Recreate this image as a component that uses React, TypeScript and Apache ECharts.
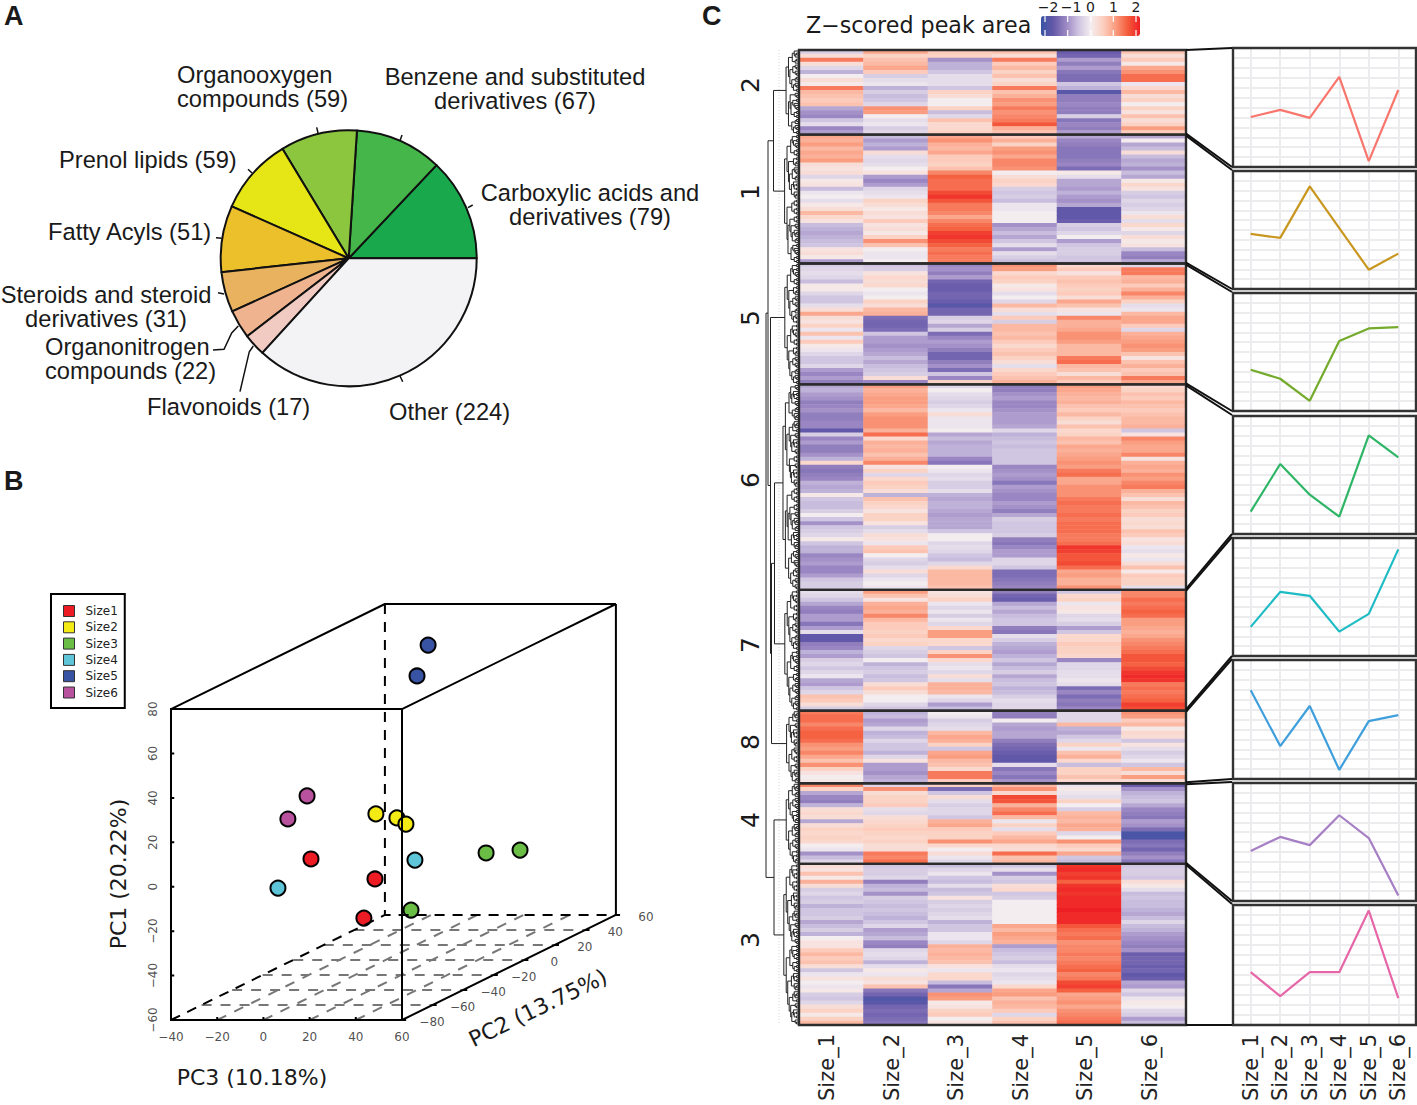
import React, { useEffect, useRef } from "react";
import * as echarts from "echarts";

const SANS = "Liberation Sans";
const DEJA = "DejaVu Sans";

// Panel A
const classNames = ["Carboxylic acids and derivatives", "Benzene and substituted derivatives", "Organooxygen compounds", "Prenol lipids", "Fatty Acyls", "Steroids and steroid derivatives", "Organonitrogen compounds", "Flavonoids", "Other"];
const classCounts = [79, 67, 59, 59, 51, 31, 22, 17, 224];
const classColors = ["#19a84c", "#45b649", "#8cc63f", "#e6e617", "#ecc02a", "#e8b25e", "#efb48f", "#f1cbc2", "#f3f3f5"];

// Panel B: points given in the plane of the perspective box
const size1Points = [[20.6, 12.5], [48.3, 3.5], [43.5, -14.1]];
const size2Points = [[48.7, 32.8], [57.8, 31], [61.7, 28.2]];
const size3Points = [[96.4, 15.2], [111.1, 16.5], [63.9, -10.5]];
const size4Points = [[65.6, 12], [6.3, -0.6]];
const size5Points = [[71.3, 108.8], [66.5, 94.9]];
const size6Points = [[18.9, 40.9], [10.6, 30.5]];
const pcaNames = ["Size1", "Size2", "Size3", "Size4", "Size5", "Size6"];
const pcaColors = ["#ed1c24", "#f5eb14", "#6abd45", "#5ec5d8", "#3953a4", "#b8529e"];
const pc3Ticks = [-40, -20, 0, 20, 40, 60];
const pc2Ticks = [-80, -60, -40, -20, 0, 20, 40, 60];
const pc1Ticks = [-60, -40, -20, 0, 20, 40, 60, 80];

// Panel C: z-scores x10, one array per sample column, rows top to bottom
const sizeLabels = ["Size_1", "Size_2", "Size_3", "Size_4", "Size_5", "Size_6"];
const clusterTwo = [
  [-4,3,14,3,-3,-7,0,3,1,14,8,7,6,7,-8,-10,-11,-5,-2,-11,-9],
  [10,5,7,8,10,6,-4,-2,-1,-7,-4,-6,-5,-3,12,11,0,-2,-1,-4,-3],
  [6,5,-10,-7,-7,-5,-2,-2,-2,-5,5,3,0,0,5,-6,-3,7,4,4,5],
  [7,3,14,6,8,5,7,3,5,14,7,9,12,11,14,12,13,14,17,9,7],
  [-16,-15,-9,-12,-9,-13,-14,-14,-5,-7,-18,-12,-12,-11,-12,-12,-4,-13,-11,-12,-9],
  [7,3,6,1,10,12,15,15,-1,4,8,3,5,0,5,2,7,3,5,11,6],
];
const clusterOne = [
  [10,9,11,8,10,9,11,3,2,3,-3,1,2,-6,-1,0,-2,1,3,8,4,2,-6,-7,-8,-7,-6,-5,2,3,1,-9],
  [-6,-9,-7,-9,3,-2,-3,-2,0,2,-9,-11,-9,-3,-2,-1,5,3,1,3,2,6,2,3,1,5,12,7,0,-1,-1,0],
  [10,12,9,8,10,6,6,5,7,13,16,15,15,15,18,20,17,14,14,13,10,13,15,16,19,20,18,16,14,15,14,14],
  [6,9,5,11,12,10,13,13,12,0,3,5,4,-4,-5,-4,-6,-1,-1,0,0,0,-10,-8,-6,-8,-5,-2,-9,-2,-4,-6],
  [-8,-11,-12,-13,-13,-13,-12,-11,-14,1,-2,-8,-8,-9,-7,-9,-10,-8,-17,-17,-17,-16,-4,-5,-3,0,-9,-5,-4,-4,-5,-5],
  [-8,0,-8,-6,3,-6,-8,-7,-10,-6,-8,1,4,2,-4,-5,-3,-4,-3,-1,3,-2,4,1,-3,3,1,2,-6,-11,-12,-8],
];
const clusterFive = [
  [-4,-3,-2,-3,-6,1,1,-3,-5,-5,-2,3,10,3,2,5,-1,7,-1,6,1,-1,-3,-5,-5,-3,-9,-11,-9,-12],
  [-5,-4,2,4,3,4,0,-1,0,5,3,8,9,-14,-15,-15,-14,-5,-9,-9,-10,-9,-8,-6,-8,-6,-5,-4,3,-11],
  [-11,-10,-12,-9,-15,-16,-16,-15,-15,-16,-18,-15,-15,-4,-3,-8,-4,-14,-11,-9,-10,-12,-15,-15,-12,-10,-14,-5,-11,5],
  [12,11,4,6,5,1,2,-2,0,-3,8,3,-2,6,-4,8,8,7,8,6,4,6,7,5,3,-2,4,6,7,9],
  [4,6,2,6,7,6,5,6,3,10,7,2,-1,13,9,9,10,12,12,11,8,8,8,14,15,8,7,3,8,6],
  [-3,14,14,8,9,6,9,13,9,5,-2,-1,8,10,10,6,-3,9,10,11,12,11,7,2,7,9,6,7,14,10],
];
const clusterSix = [
  [-8,-7,-9,-10,-12,-11,-10,-12,-12,-11,-11,-17,-4,-11,-9,-12,-12,-10,-7,4,-12,-13,-12,-11,-7,-8,-7,1,-5,-6,-6,-4,0,-5,-10,-5,-4,-3,1,-5,-7,-7,-11,-10,-9,-11,-11,-9,-5,-4,-4],
  [11,9,10,11,11,10,8,11,12,12,12,9,15,4,9,8,9,7,9,13,2,5,-3,4,6,5,3,-7,7,5,4,2,5,5,2,-4,-2,3,2,-1,6,7,0,-3,-4,-2,3,-3,-1,0,-1],
  [-3,0,-2,-3,-4,-3,-1,3,-1,-1,-1,0,-8,-6,-8,-7,-7,-7,-11,-13,0,-1,-3,-2,-4,-4,-2,-7,-8,-7,-7,-8,-9,-8,-8,-8,-5,0,0,-3,-2,-3,-5,-6,-3,4,8,8,8,8,7],
  [-12,-12,-10,-9,-11,-11,-10,-9,-9,-9,-8,-3,-7,-6,-5,-6,-5,-5,-5,-5,-11,-10,-9,-10,-13,-9,-10,-11,-11,-9,-10,-12,-8,-4,-5,-5,-5,-4,-12,-13,-11,-9,-9,-3,-3,-5,-14,-14,-13,-12,-11],
  [11,10,9,8,9,7,6,8,5,3,7,4,5,8,7,10,9,10,11,12,11,14,15,10,10,12,12,12,14,15,14,14,15,14,15,15,15,14,14,15,20,19,17,17,18,15,10,11,9,9,12],
  [4,5,7,6,8,7,6,7,8,8,9,-5,2,13,11,10,10,13,2,9,10,9,12,11,13,14,9,7,3,8,7,5,6,3,4,3,7,6,2,3,-1,-2,1,-1,3,7,1,6,5,5,-2],
];
const clusterSeven = [
  [-2,-3,-5,-8,-11,-12,-9,-9,-13,-9,-2,-17,-17,-12,-11,-7,-9,-4,-3,-5,-3,-1,-8,-9,-5,-3,7,6,3,-4],
  [11,7,2,9,10,9,13,8,6,6,5,6,4,5,-3,-4,-5,0,-7,-5,-4,-6,-5,3,6,3,0,0,-3,-5],
  [2,3,5,-1,-3,-1,-4,-1,-3,4,11,11,4,4,-5,5,12,4,-2,-1,-3,3,-2,9,9,8,-1,-3,-9,-6],
  [-12,-15,-16,-8,-6,-8,-6,-5,-5,-12,-13,-2,-4,-7,-8,-9,-7,-5,-8,-6,-4,-8,-6,-5,-7,-6,-4,-2,-3,-3],
  [-5,4,5,-1,2,1,-3,-2,-4,-9,-5,4,4,6,5,5,4,-11,-3,-3,-2,-2,-1,-2,-14,-11,-14,-12,-13,-11],
  [13,13,15,14,15,16,15,11,11,10,9,10,12,13,14,15,17,17,16,18,20,21,20,14,15,14,15,16,19,18],
];
const clusterEight = [
  [14,15,15,13,15,16,16,15,12,11,13,10,7,12,5,2,0,1],
  [-7,-6,-9,-8,-3,-7,-6,-3,-5,-5,-7,-3,2,-9,-9,-10,-8,-7],
  [0,-1,-4,-3,-2,8,10,9,5,-5,10,11,8,7,4,14,14,6],
  [-12,-12,0,-8,-9,-8,-8,-12,-14,-15,-16,-17,-17,-2,-13,-11,-13,-10],
  [-3,-3,-3,8,-7,-8,-5,-3,5,-1,7,9,4,-6,5,5,7,4],
  [12,11,6,8,1,4,3,-5,2,-2,-4,-3,-1,-5,8,3,11,3],
];
const clusterFour = [
  [13,5,-8,-11,-12,-7,3,4,3,-8,3,5,4,5,4,0,-1,-10,-6,-3],
  [-3,12,3,5,5,6,-2,-3,3,4,5,6,5,4,5,3,3,14,13,15],
  [5,-14,-5,3,-2,-4,-3,-3,-5,9,10,6,5,5,12,4,0,3,-1,-3],
  [8,12,4,18,17,9,13,15,8,-1,5,-2,6,8,10,4,3,15,7,8],
  [-1,1,-1,-2,5,0,-4,8,9,8,10,9,-3,0,12,6,4,10,-5,-6],
  [-16,-10,-7,-6,-5,-8,-11,-12,-13,-9,-10,-14,-20,-20,-14,-13,-15,-12,-10,-13],
];
const clusterThree = [
  [3,2,7,1,9,3,-4,-3,-5,-4,-7,-5,-5,-4,-8,-6,-4,-7,0,2,2,6,8,6,7,3,-5,-1,2,0,-1,1,-4,-5,-3,3,5,1,5,8],
  [-5,-4,-4,-3,-12,-7,-6,-10,-4,-5,-6,-5,-6,-7,-5,-3,-9,-8,-6,-11,-12,-3,-2,-3,-7,-2,1,-1,3,2,7,-13,-15,-19,-18,-15,-14,-15,-14,-13],
  [-6,-3,-1,-5,-6,-2,-6,-5,2,-4,-3,-4,-3,-2,-7,-5,-5,-1,-1,-3,9,8,9,8,7,2,-1,4,4,-6,-13,-8,12,11,1,2,5,6,0,2],
  [-5,-2,-10,-4,-5,3,4,-5,-4,0,0,0,0,0,0,10,8,11,10,9,-9,-6,-5,-4,-6,-2,-1,-3,-2,-1,4,10,11,7,9,8,6,-3,5,7],
  [20,21,19,20,16,20,21,20,21,21,21,22,21,21,21,17,15,14,15,12,13,13,14,13,14,15,16,13,14,18,19,16,10,11,12,10,12,13,14,15],
  [-5,-4,-4,-5,3,1,-2,-6,-5,-6,-6,-7,-8,-6,-3,-6,-7,-9,-10,-11,-12,-10,-16,-15,-15,-16,-15,-17,-16,-8,-9,-3,-5,-1,1,0,-3,-4,-9,-6],
];
const clusterOrder = [clusterTwo, clusterOne, clusterFive, clusterSix, clusterSeven, clusterEight, clusterFour, clusterThree];
const clusterNames = ["2", "1", "5", "6", "7", "8", "4", "3"];
const clusterLabelY = [85, 192, 318, 480, 645, 742, 820, 940];

// Panel C: mean profile of each cluster
const profile1 = [-0.24, -0.06, -0.26, 0.77, -1.35, 0.44];
const profile2 = [-0.1, -0.2, 1.11, 0.05, -1.01, -0.6];
const profile3 = [-0.45, -0.68, -1.24, 0.28, 0.6, 0.63];
const profile4 = [-0.93, 0.28, -0.5, -1.06, 1.01, 0.45];
const profile5 = [-0.76, 0.13, 0.03, -0.88, -0.43, 1.21];
const profile6 = [0.74, -0.67, 0.34, -1.27, -0.04, 0.11];
const profile7 = [-0.23, 0.13, -0.08, 0.68, 0.1, -1.36];
const profile8 = [-0.18, -0.78, -0.18, -0.18, 1.36, -0.83];
const profiles = [profile1, profile2, profile3, profile4, profile5, profile6, profile7, profile8];
const profileColors = ["#f8766d", "#c9971f", "#74ab2c", "#2fb566", "#1dbcc4", "#3f9fdc", "#a67fc5", "#e667a8"];
const panelTops = [48, 171, 293, 416, 538, 660, 783, 905];
const panelBottoms = [167, 289, 411, 534, 656, 779, 901, 1025];

const minus = (v: number) => String(v).replace("-", "\u2212");
const ux = 92.6 / 140;
const uy = 47.3 / 140;
const project = (pc3: number, pc2: number, pc1: number) => [pc3 + (pc2 + 80) * ux, pc1 + (pc2 + 80) * uy];

function segments(list: number[][][]) {
  const out: any[] = [];
  list.forEach((s) => {
    s.forEach((p) => out.push(project(p[0], p[1], p[2])));
    out.push(["-", "-"]);
  });
  return out;
}

function buildOption() {
  const HT = 50, HH = 975, HL = 799, HW = 387;
  const N = clusterOrder.reduce((a, c) => a + c[0].length, 0);
  const rowH = HH / N;

  // heatmap cells
  const heat: number[][] = [];
  let start = 0;
  const ranges: number[][] = [];
  clusterOrder.forEach((c) => {
    const n = c[0].length;
    c.forEach((col, x) => col.forEach((v, r) => heat.push([x, start + r, v / 10])));
    ranges.push([start, n]);
    start += n;
  });

  // dendrogram
  const dend: any[] = [];
  const merge = (a: number[], b: number[], x: number) => {
    dend.push([a[0], a[1]], [x, a[1]], [x, b[1]], [b[0], b[1]], ["-", "-"]);
    return [x, (a[1] + b[1]) / 2];
  };
  const fractions = [0.5, 0.35, 0.6, 0.25, 0.45];
  const tree = (lo: number, n: number, top: number, depth: number): number[] => {
    if (n === 1) return [HL, top + (lo + 0.5) * rowH / 2];
    const f = fractions[(depth + lo) % 5];
    const k = Math.max(1, Math.min(n - 1, Math.round(n * f)));
    const a = tree(lo, k, top, depth + 1);
    const b = tree(lo + k, n - k, top, depth + 1);
    return merge(a, b, HL - 2.4 * Math.log2(n));
  };
  const roots = ranges.map(([s, n]) => tree(0, n * 2, HT + s * rowH, 0));
  const n21 = merge(roots[0], roots[1], 773.5);
  const n67 = merge(roots[3], roots[4], 774.5);
  const n678 = merge(n67, roots[5], 771.5);
  const n5678 = merge(roots[2], n678, 770.5);
  const n43 = merge(roots[6], roots[7], 774);
  const nTop = merge(n21, n5678, 768);
  merge(nTop, n43, 766);

  // perspective box
  const solid = segments([
    [[-40, -80, 80], [60, -80, 80], [60, -80, -60], [-40, -80, -60], [-40, -80, 80]],
    [[-40, -80, 80], [-40, 60, 80], [60, 60, 80], [60, -80, 80]],
    [[60, 60, 80], [60, 60, -60], [60, -80, -60]],
    ...pc3Ticks.map((t) => [[t, -80, -61.4], [t, -80, -58.6]]),
    ...pc1Ticks.map((t) => [[-41.4, -80, t], [-38.6, -80, t]]),
    ...pc2Ticks.map((t) => [[60, t, -60], [61.8, t, -60]]),
  ]);
  const dashedBlack = segments([
    [[-40, 60, 80], [-40, 60, -60]],
    [[-40, -80, -60], [-40, 60, -60], [60, 60, -60]],
  ]);
  const dashedGrey = segments([
    ...pc2Ticks.slice(1, -1).map((t) => [[-40, t, -60], [60, t, -60]]),
    ...pc3Ticks.slice(1, -1).map((t) => [[t, -80, -60], [t, 60, -60]]),
  ]);
  const labelSeries = (data: any[], offset: number[], rotate = 0) => ({
    type: "scatter", xAxisIndex: 2, yAxisIndex: 2, symbolSize: 1, clip: false, silent: true,
    itemStyle: { color: "transparent" },
    label: { show: true, position: "inside", offset, rotate, fontFamily: DEJA, fontSize: 12, color: "#222", formatter: (p: any) => p.value[2] },
    data,
  });

  // connectors between heatmap and profiles
  const clusterTopY = ranges.map(([s]) => HT + s * rowH);
  const clusterBottomY = ranges.map(([s, n]) => HT + (s + n) * rowH);
  const connector: any[] = [];
  clusterTopY.forEach((y, i) => connector.push({ a: y + (i ? 1 : 0), b: panelTops[i] - (i ? 1 : 0) }));
  clusterBottomY.forEach((y, i) => connector.push({ a: y - (i < 7 ? 1 : 0), b: panelBottoms[i] }));

  const text = (t: string, x: number, y: number, size: number, opt: any = {}) => ({
    type: "text", x, y, z: 20, rotation: opt.rotation || 0,
    style: {
      text: t, fontFamily: opt.family || SANS, fontSize: size, fontWeight: opt.weight || "normal",
      fill: opt.fill || "#1a1a1a", align: opt.align || "left", verticalAlign: "middle", lineHeight: opt.lineHeight || size * 1.0,
    },
  });
  const seg = (x1: number, y1: number, x2: number, y2: number, w = 1.5, stroke = "#111") => ({
    type: "line", z: 20, shape: { x1, y1, x2, y2 }, style: { stroke, lineWidth: w },
  });
  const leader = (points: number[][]) => ({
    type: "polyline", z: 20, shape: { points }, style: { stroke: "#111", lineWidth: 1.5, fill: "none" },
  });

  const graphics: any[] = [
    text("A", 4, 16, 27, { weight: "bold" }),
    text("B", 4, 481, 27, { weight: "bold" }),
    text("C", 702, 16, 27, { weight: "bold" }),
    text("Organooxygen\ncompounds (59)", 177, 86.5, 23.7, { lineHeight: 24 }),
    text("Benzene and substituted\nderivatives (67)", 515, 88.5, 23.7, { align: "center", lineHeight: 24 }),
    text("Prenol lipids (59)", 59, 159.5, 23.7),
    text("Carboxylic acids and\nderivatives (79)", 590, 204.5, 23.7, { align: "center", lineHeight: 24 }),
    text("Fatty Acyls (51)", 48, 231.5, 23.7),
    text("Steroids and steroid\nderivatives (31)", 106, 306.5, 23.7, { align: "center", lineHeight: 24 }),
    text("Organonitrogen\ncompounds (22)", 45, 358.5, 23.7, { lineHeight: 24 }),
    text("Flavonoids (17)", 147, 406.5, 23.7),
    text("Other (224)", 389, 411.5, 23.7),
    seg(316.7, 127.3, 318, 133), seg(402, 135, 400, 140.7), seg(468, 207.7, 472.7, 205), seg(248, 169.3, 252, 173),
    seg(216, 237.7, 221.7, 238.3), seg(218, 292.7, 224, 294), seg(400, 376, 402.7, 381.7),
    leader([[213, 350], [224, 349.3], [231.7, 333], [238.3, 326]]),
    leader([[240, 391.7], [249.3, 351.7], [253.3, 346]]),
    text("PC1 (20.22%)", 118, 874, 22, { family: DEJA, align: "center", rotation: Math.PI / 2 }),
    text("PC3 (10.18%)", 252, 1077, 22, { family: DEJA, align: "center" }),
    text("PC2 (13.75%)", 538, 1008, 22, { family: DEJA, align: "center", rotation: 0.45 }),
    text("Z\u2212scored peak area", 806, 25, 22.2, { family: DEJA }),
    ...[-2, -1, 0, 1, 2].map((v, i) => text(minus(v), [1048, 1071, 1090.5, 1113.5, 1136][i], 7, 14, { family: DEJA, align: "center" })),
    ...[1045, 1067.7, 1091, 1113.3, 1136].flatMap((x) => [seg(x, 16, x, 22, 1.2, "#fff"), seg(x, 30, x, 36, 1.2, "#fff")]),
    ...clusterNames.map((n, i) => text(n, 750, clusterLabelY[i], 25, { family: DEJA, align: "center", rotation: Math.PI / 2 })),
    ...ranges.map(([s, n]) => ({
      type: "rect", z: 15, shape: { x: HL, y: HT + s * rowH, width: HW, height: n * rowH },
      style: { fill: "none", stroke: "#2b2b2b", lineWidth: 2.4 },
    })),
    ...connector.map((c) => seg(HL + HW, c.a, 1232, c.b, 2, "#111")),
    ...panelTops.map((top, i) => ({
      type: "rect", z: 15, shape: { x: 1233, y: top, width: 183, height: panelBottoms[i] - top },
      style: { fill: "none", stroke: "#333", lineWidth: 2.4 },
    })),
  ];

  const grids: any[] = [
    { left: HL, top: HT, width: HW, height: HH, outerBoundsMode: "none" },
    { left: 760, top: HT, width: 39, height: HH, outerBoundsMode: "none" },
    { left: 171, top: 598, width: 462, height: 422, outerBoundsMode: "none" },
  ];
  const hiddenValue = (min: number, max: number, inverse = false, gridIndex = 0) => ({
    type: "value", gridIndex, min, max, inverse, show: false, splitLine: { show: false },
  });
  const xAxes: any[] = [
    {
      type: "category", gridIndex: 0, data: sizeLabels, axisLine: { show: false }, axisTick: { show: false },
      axisLabel: { rotate: 90, fontFamily: DEJA, fontSize: 21, margin: 9, color: "#222", verticalAlign: "bottom", lineHeight: 8 },
    },
    hiddenValue(760, 799, false, 1),
    hiddenValue(-40, 160, false, 2),
  ];
  const yAxes: any[] = [
    { type: "category", gridIndex: 0, inverse: true, data: Array.from({ length: N }, (_, i) => String(i)), show: false },
    hiddenValue(HT, HT + HH, true, 1),
    hiddenValue(-60, 130, false, 2),
  ];
  const series: any[] = [
    {
      type: "pie", center: [348.7, 258.3], radius: 128, startAngle: 0, clockwise: false, silent: true,
      label: { show: false }, labelLine: { show: false },
      itemStyle: { borderColor: "#111", borderWidth: 2 },
      data: classNames.map((name, i) => ({ name, value: classCounts[i], itemStyle: { color: classColors[i] } })),
    },
    {
      type: "heatmap", xAxisIndex: 0, yAxisIndex: 0, data: heat, silent: true, progressive: 0,
      itemStyle: { borderWidth: 0 },
    },
    {
      type: "line", xAxisIndex: 1, yAxisIndex: 1, data: [[779, HT], [779, HT + HH]], showSymbol: false, silent: true,
      lineStyle: { color: "#bbb", width: 0.6, type: [1, 2] },
    },
    {
      type: "line", xAxisIndex: 1, yAxisIndex: 1, data: dend, showSymbol: false, silent: true, connectNulls: false,
      lineStyle: { color: "#222", width: 1 },
    },
    { type: "line", xAxisIndex: 2, yAxisIndex: 2, data: dashedGrey, showSymbol: false, silent: true, lineStyle: { color: "#777", width: 2, type: [10, 9] } },
    { type: "line", xAxisIndex: 2, yAxisIndex: 2, data: dashedBlack, showSymbol: false, silent: true, lineStyle: { color: "#000", width: 2, type: [10, 8] } },
    { type: "line", xAxisIndex: 2, yAxisIndex: 2, data: solid, showSymbol: false, silent: true, lineStyle: { color: "#000", width: 2 } },
    labelSeries(pc3Ticks.map((t) => [...project(t, -80, -60), minus(t)]), [0, 17]),
    labelSeries(pc1Ticks.map((t) => [...project(-40, -80, t), minus(t)]), [0, -18], 90),
    labelSeries(pc2Ticks.map((t) => [...project(60, t, -60), minus(t)]), [30, 2]),
    ...[size1Points, size2Points, size3Points, size4Points, size5Points, size6Points].map((pts, i) => ({
      type: "scatter", name: pcaNames[i], xAxisIndex: 2, yAxisIndex: 2, data: pts, symbol: "circle", symbolSize: 15, clip: false, silent: true,
      itemStyle: { color: pcaColors[i], borderColor: "#000", borderWidth: 2, opacity: 1 },
    })),
  ];
  profiles.forEach((values, i) => {
    const g = grids.length;
    grids.push({ left: 1233, width: 183, top: panelTops[i], height: panelBottoms[i] - panelTops[i], outerBoundsMode: "none" });
    const last = i === profiles.length - 1;
    xAxes.push({
      type: "value", gridIndex: g, min: 0.4, max: 6.6, axisLine: { show: false },
      axisTick: { show: false, customValues: [1, 2, 3, 4, 5, 6] },
      axisLabel: {
        show: last, customValues: [1, 2, 3, 4, 5, 6], rotate: 90, fontFamily: DEJA, fontSize: 21, margin: 9, color: "#222",
        formatter: (v: number) => sizeLabels[v - 1], hideOverlap: false,
      },
      splitLine: { show: true, lineStyle: { color: "#ececee", width: 2 } },
    });
    yAxes.push({
      type: "value", gridIndex: g, min: -1.5, max: 1.5, interval: 0.25, axisLine: { show: false }, axisTick: { show: false },
      axisLabel: { show: false }, splitLine: { show: true, lineStyle: { color: "#ececee", width: 2 } },
    });
    series.push({
      type: "line", xAxisIndex: g, yAxisIndex: g, data: values.map((v, k) => [k + 1, v]), showSymbol: false, silent: true,
      lineStyle: { color: profileColors[i], width: 2.2 },
    });
  });

  return {
    animation: false,
    backgroundColor: "#fff",
    tooltip: { show: false },
    legend: {
      data: pcaNames, left: 51, top: 594, orient: "vertical", icon: "rect", itemWidth: 11, itemHeight: 11, itemGap: 4.3,
      padding: [11, 7, 9.5, 12], borderColor: "#000", borderWidth: 2, selectedMode: false,
      itemStyle: { borderColor: "#333", borderWidth: 1 },
      textStyle: { fontFamily: DEJA, fontSize: 12, color: "#222", padding: [0, 0, 0, 6] },
    },
    visualMap: {
      type: "continuous", seriesIndex: 1, dimension: 2, min: -2.2, max: 2.2, orient: "horizontal", left: 1041, top: 16,
      itemHeight: 99, itemWidth: 20, padding: 0, calculable: false, hoverLink: false,
      inRange: { color: ["#3a53a4", "#6559a9", "#9a86c2", "#cdc2e0", "#f4edf0", "#fcd0c1", "#fa9e82", "#f45c3c", "#ee1f24"] },
    },
    grid: grids, xAxis: xAxes, yAxis: yAxes, series, graphic: { elements: graphics },
  };
}

export default function App() {
  const ref = useRef<HTMLDivElement>(null);
  useEffect(() => {
    const chart = echarts.init(ref.current!, undefined, { renderer: "svg" });
    chart.setOption(buildOption() as any);
    return () => chart.dispose();
  }, []);
  return <div ref={ref} style={{ position: "absolute", left: 0, top: 0, width: 1417, height: 1105 }} />;
}
